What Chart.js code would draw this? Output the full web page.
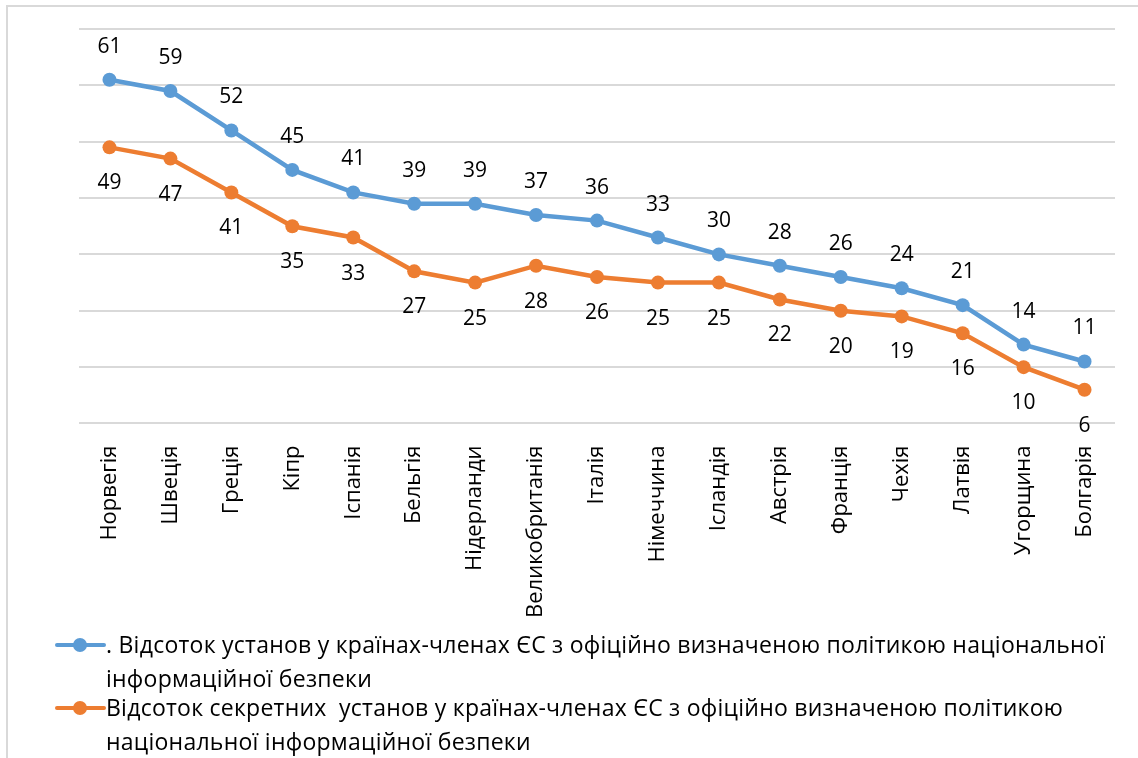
<!DOCTYPE html>
<html lang="uk">
<head>
<meta charset="UTF-8">
<title>Відсоток установ</title>
<script src="https://cdn.jsdelivr.net/npm/chart.js"></script>
<style>
body {
  margin: 0;
  background: #fff;
  font-family: 'Open Sans', sans-serif;
}
.frame {
  position: absolute;
  left: 6px;
  top: 5px;
  width: 1200px;
  height: 800px;
  border-left: 2px solid #d9d9d9;
  border-top: 2px solid #d9d9d9;
}
.wrap {
  position: absolute;
  left: 0;
  top: 0;
  width: 1138px;
  height: 632px;
}
.legend {
  position: absolute;
  left: 55px;
  top: 627px;
  width: 1075px;
  font-size: 23px;
  letter-spacing: 0.25px;
  color: #000;
}
.legend-item {
  display: flex;
  align-items: flex-start;
  line-height: 34px;
  margin-bottom: -5px;
}
.legend-item .txt {
  white-space: pre-wrap;
}
.legend-mark {
  position: relative;
  flex: 0 0 51px;
  height: 34px;
}
.legend-mark .ln {
  position: absolute;
  left: 0;
  right: 0;
  top: 16px;
  height: 4px;
  border-radius: 2px;
}
.legend-mark .dot {
  position: absolute;
  left: 18px;
  top: 11px;
  width: 14px;
  height: 14px;
  border-radius: 50%;
}
</style>
</head>
<body>
<div class="frame"></div>
<div class="wrap"><canvas id="chart"></canvas></div>
<div class="legend" id="legend"></div>
<script>
// categories and values
const countries = ['Норвегія', 'Швеція', 'Греція', 'Кіпр', 'Іспанія', 'Бельгія', 'Нідерланди',
  'Великобританія', 'Італія', 'Німеччина', 'Ісландія', 'Австрія', 'Франція', 'Чехія',
  'Латвія', 'Угорщина', 'Болгарія'];
const allInstitutions = [61, 59, 52, 45, 41, 39, 39, 37, 36, 33, 30, 28, 26, 24, 21, 14, 11];
const secretInstitutions = [49, 47, 41, 35, 33, 27, 25, 28, 26, 25, 25, 22, 20, 19, 16, 10, 6];
const seriesNames = [
  '. Відсоток установ у країнах-членах ЄС з офіційно визначеною політикою національної інформаційної безпеки',
  'Відсоток секретних  установ у країнах-членах ЄС з офіційно визначеною політикою національної інформаційної безпеки'
];
const yTicks = [0, 10, 20, 30, 40, 50, 60, 70];

const blue = '#5b9bd5';
const orange = '#ed7d31';

// value labels: blue above the point, orange below
const valueLabels = {
  id: 'valueLabels',
  afterDatasetsDraw(chart) {
    const ctx = chart.ctx;
    ctx.save();
    ctx.font = '21px "Open Sans"';
    ctx.fillStyle = '#000';
    ctx.textAlign = 'center';
    ctx.textBaseline = 'middle';
    chart.data.datasets.forEach((ds, i) => {
      const meta = chart.getDatasetMeta(i);
      meta.data.forEach((pt, j) => {
        const dy = i === 0 ? -33 : 36;
        ctx.fillText(ds.data[j], pt.x, pt.y + dy);
      });
    });
    ctx.restore();
  }
};

const chart = new Chart(document.getElementById('chart'), {
  type: 'line',
  data: {
    labels: countries,
    datasets: [{
      label: seriesNames[0],
      data: allInstitutions,
      borderColor: blue,
      backgroundColor: blue,
      borderWidth: 4.5,
      pointRadius: 7,
      pointBackgroundColor: blue,
      pointBorderWidth: 0,
      tension: 0
    }, {
      label: seriesNames[1],
      data: secretInstitutions,
      borderColor: orange,
      backgroundColor: orange,
      borderWidth: 4.5,
      pointRadius: 7,
      pointBackgroundColor: orange,
      pointBorderWidth: 0,
      tension: 0
    }]
  },
  options: {
    responsive: true,
    maintainAspectRatio: false,
    animation: false,
    layout: {
      padding: { left: 79, right: 23, top: 29, bottom: 0 }
    },
    plugins: {
      legend: { display: false },
      tooltip: { enabled: false }
    },
    scales: {
      x: {
        offset: true,
        grid: { display: false },
        border: { display: false },
        ticks: {
          minRotation: 90,
          maxRotation: 90,
          autoSkip: false,
          color: '#000',
          padding: 14,
          font: { family: 'Open Sans', size: 22 }
        }
      },
      y: {
        min: 0,
        max: 70,
        afterBuildTicks(axis) {
          axis.ticks = yTicks.map(v => ({ value: v }));
        },
        grid: { color: '#d9d9d9', lineWidth: 2, drawTicks: false },
        border: { display: false },
        ticks: { display: false }
      }
    }
  },
  plugins: [valueLabels]
});

// html legend so the long series names can wrap
const legendEl = document.getElementById('legend');
chart.data.datasets.forEach(ds => {
  const item = document.createElement('div');
  item.className = 'legend-item';
  item.innerHTML = '<div class="legend-mark"><div class="ln" style="background:' + ds.borderColor +
    '"></div><div class="dot" style="background:' + ds.borderColor + '"></div></div>';
  const txt = document.createElement('div');
  txt.className = 'txt';
  txt.textContent = ds.label;
  item.appendChild(txt);
  legendEl.appendChild(item);
});
</script>
</body>
</html>
